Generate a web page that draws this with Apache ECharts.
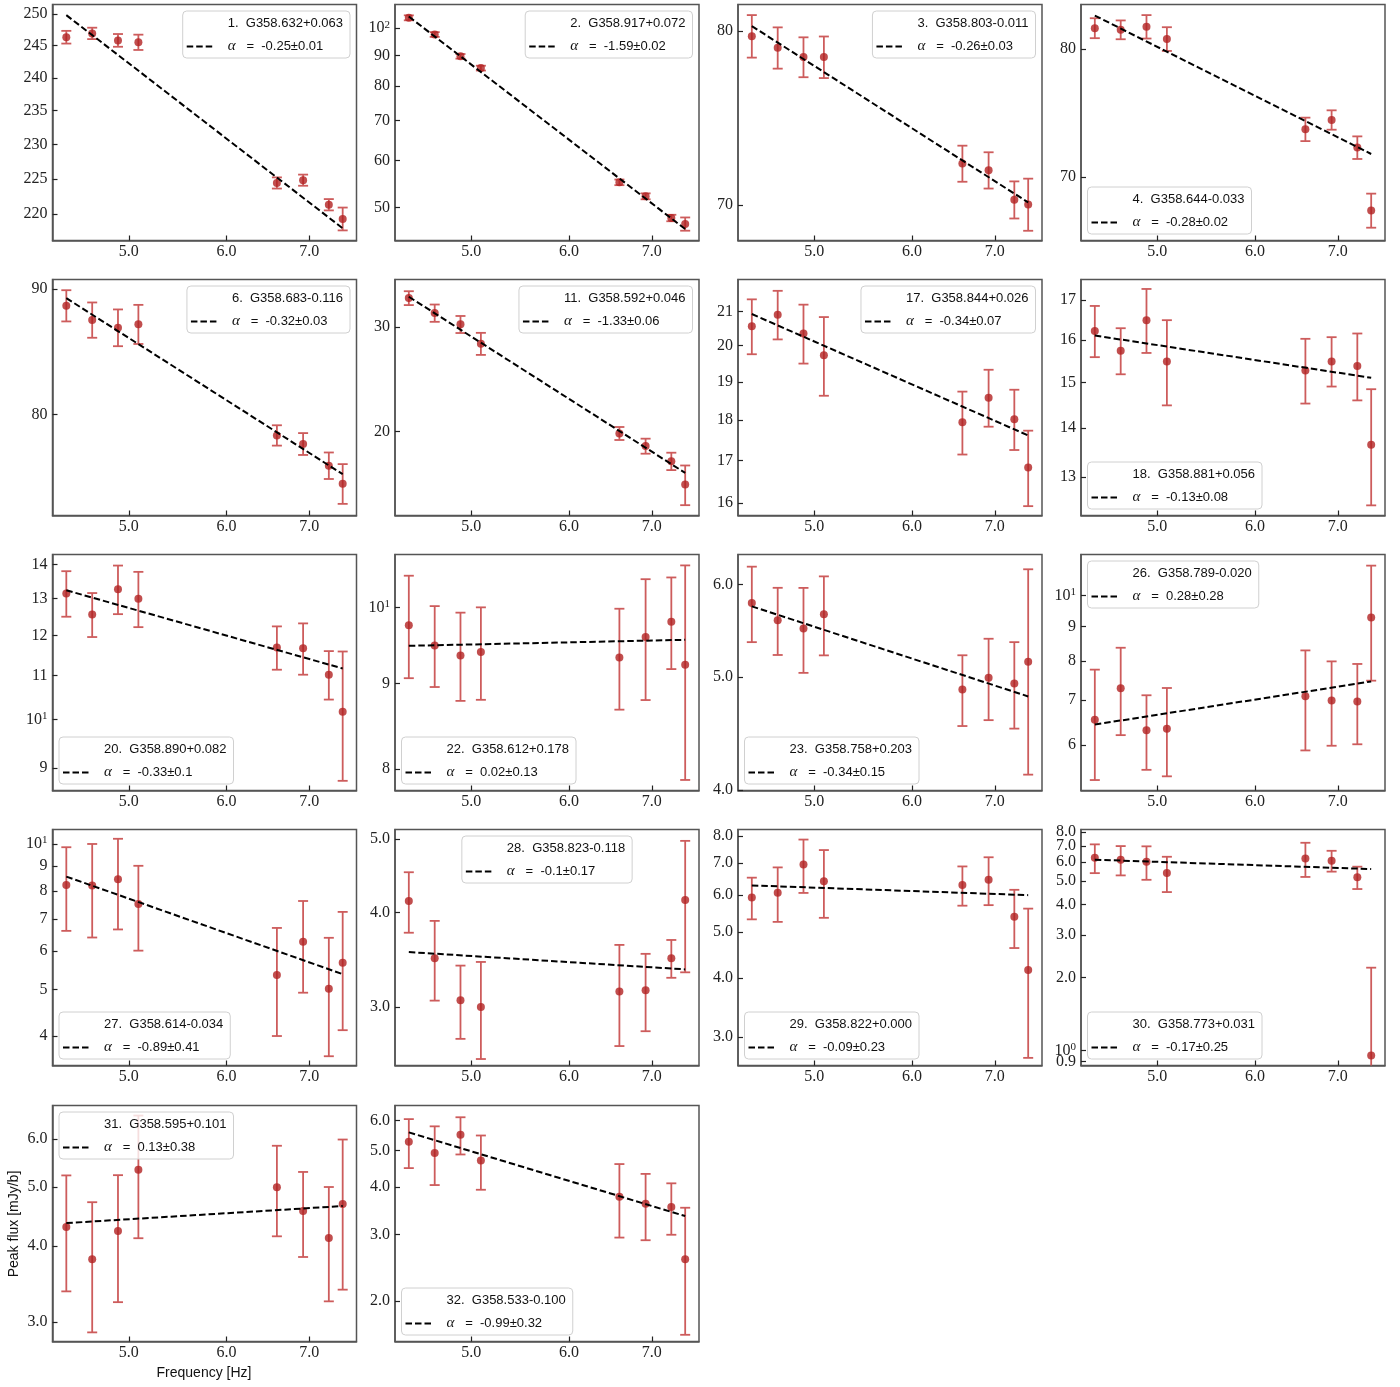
<!DOCTYPE html>
<html>
<head>
<meta charset="utf-8">
<script src="https://cdn.jsdelivr.net/npm/echarts@6/dist/echarts.min.js"></script>
<style>
html,body{margin:0;padding:0;background:#ffffff;}
#chart{width:1400px;height:1387px;}
</style>
</head>
<body>
<div id="chart"></div>
<script>
// ---------------- DATA ----------------
const FREQ = [4.45, 4.67, 4.90, 5.09, 6.59, 6.92, 7.26, 7.45];
const X_TICKS = ['5.0', '6.0', '7.0'];

const IDS = [1, 2, 3, 4, 6, 11, 17, 18, 20, 22, 23, 26, 27, 28, 29, 30, 31, 32];
const NAMES = ['G358.632+0.063', 'G358.917+0.072', 'G358.803-0.011', 'G358.644-0.033',
  'G358.683-0.116', 'G358.592+0.046', 'G358.844+0.026', 'G358.881+0.056',
  'G358.890+0.082', 'G358.612+0.178', 'G358.758+0.203', 'G358.789-0.020',
  'G358.614-0.034', 'G358.823-0.118', 'G358.822+0.000', 'G358.773+0.031',
  'G358.595+0.101', 'G358.533-0.100'];
const ALPHAS = ['-0.25±0.01', '-1.59±0.02', '-0.26±0.03', '-0.28±0.02',
  '-0.32±0.03', '-1.33±0.06', '-0.34±0.07', '-0.13±0.08',
  '-0.33±0.1', '0.02±0.13', '-0.34±0.15', '0.28±0.28',
  '-0.89±0.41', '-0.1±0.17', '-0.09±0.23', '-0.17±0.25',
  '0.13±0.38', '-0.99±0.32'];

const flux_1 = [246.3, 246.9, 245.8, 245.5, 224.4, 224.8, 221.3, 219.3];
const err_1 = [1.0, 0.9, 1.0, 1.2, 0.8, 0.8, 0.8, 1.6];
const fit_1 = [249.8, 218.0];
const yticks_1 = ['220', '225', '230', '235', '240', '245', '250'];
const ylim_1 = [216.3, 251.5];

const flux_2 = [104.1, 97.6, 89.7, 85.7, 55.1, 52.2, 48.0, 46.9];
const err_2 = [1.0, 0.9, 0.8, 0.8, 0.6, 0.6, 0.6, 1.2];
const fit_2 = [104.6, 46.0];
const yticks_2 = ['50', '60', '70', '80', '90', '10^2'];
const ylim_2 = [44.0, 109.6];

const flux_3 = [79.67, 78.96, 78.40, 78.40, 72.25, 71.88, 70.27, 70.02];
const err_3 = [1.3, 1.25, 1.2, 1.25, 1.0, 1.0, 1.0, 1.4];
const fit_3 = [80.29, 70.13];
const yticks_3 = ['70', '80'];
const ylim_3 = [68.11, 81.63];

const flux_4 = [81.76, 81.62, 81.88, 80.84, 73.58, 74.30, 72.19, 67.61];
const err_4 = [0.85, 0.8, 1.0, 1.0, 0.9, 0.75, 0.85, 1.2];
const fit_4 = [82.84, 71.71];
const yticks_4 = ['70', '80'];
const ylim_4 = [65.53, 83.80];

const flux_6 = [88.61, 87.43, 86.80, 87.08, 78.44, 77.81, 76.24, 74.95];
const err_6 = [1.3, 1.45, 1.5, 1.6, 0.75, 0.8, 0.95, 1.4];
const fit_6 = [89.24, 75.63];
const yticks_6 = ['80', '90'];
const ylim_6 = [72.75, 90.82];

const flux_11 = [33.56, 31.67, 30.31, 28.13, 19.87, 18.92, 17.84, 16.30];
const err_11 = [0.9, 1.06, 1.0, 1.2, 0.5, 0.55, 0.6, 1.25];
const fit_11 = [33.73, 17.05];
const yticks_11 = ['20', '30'];
const ylim_11 = [14.46, 36.06];

const flux_17 = [20.56, 20.90, 20.35, 19.73, 17.94, 18.58, 18.02, 16.83];
const err_17 = [0.8, 0.72, 0.85, 1.1, 0.8, 0.75, 0.77, 0.9];
const fit_17 = [20.92, 17.61];
const yticks_17 = ['16', '17', '18', '19', '20', '21'];
const ylim_17 = [15.72, 21.97];

const flux_18 = [16.22, 15.74, 16.49, 15.49, 15.28, 15.49, 15.38, 13.65];
const err_18 = [0.63, 0.55, 0.8, 1.0, 0.75, 0.58, 0.78, 1.2];
const fit_18 = [16.11, 15.11];
const yticks_18 = ['13', '14', '15', '16', '17'];
const ylim_18 = [12.26, 17.54];

const flux_20 = [13.15, 12.56, 13.27, 13.0, 11.69, 11.67, 11.02, 10.17];
const err_20 = [0.65, 0.6, 0.7, 0.78, 0.55, 0.65, 0.58, 1.42];
const fit_20 = [13.24, 11.17];
const yticks_20 = ['9', '10^1', '11', '12', '13', '14'];
const ylim_20 = [8.568, 14.31];

const flux_22 = [9.759, 9.489, 9.359, 9.402, 9.333, 9.599, 9.804, 9.239];
const err_22 = [0.69, 0.53, 0.57, 0.6, 0.65, 0.8, 0.62, 1.36];
const fit_22 = [9.484, 9.563];
const yticks_22 = ['8', '9', '10^1'];
const ylim_22 = [7.765, 10.76];

const flux_23 = [5.784, 5.590, 5.499, 5.656, 4.877, 4.99, 4.934, 5.152];
const err_23 = [0.43, 0.37, 0.46, 0.44, 0.34, 0.4, 0.42, 1.03];
const fit_23 = [5.746, 4.81];
const yticks_23 = ['4.0', '5.0', '6.0'];
const ylim_23 = [3.995, 6.365];

const flux_26 = [6.548, 7.291, 6.317, 6.346, 7.095, 6.99, 6.97, 9.281];
const err_26 = [1.22, 1.08, 0.8, 0.95, 1.2, 1.0, 0.95, 1.8];
const fit_26 = [6.44, 7.46];
const yticks_26 = ['6', '7', '8', '9', '10^1'];
const ylim_26 = [5.141, 11.51];

const flux_27 = [8.231, 8.205, 8.456, 7.516, 5.354, 6.273, 5.016, 5.677];
const err_27 = [1.62, 1.8, 1.8, 1.5, 1.35, 1.35, 1.38, 1.56];
const fit_27 = [8.564, 5.379];
const yticks_27 = ['4', '5', '6', '7', '8', '9', '10^1'];
const ylim_27 = [3.479, 10.72];

const flux_28 = [4.14, 3.478, 3.062, 3.0, 3.143, 3.156, 3.478, 4.153];
const err_28 = [0.38, 0.42, 0.34, 0.44, 0.48, 0.37, 0.2, 0.82];
const fit_28 = [3.545, 3.363];
const yticks_28 = ['3.0', '4.0', '5.0'];
const ylim_28 = [2.51, 5.148];

const flux_29 = [5.923, 6.058, 6.955, 6.413, 6.29, 6.455, 5.388, 4.159];
const err_29 = [0.6, 0.8, 0.9, 1.05, 0.6, 0.75, 0.76, 1.45];
const fit_29 = [6.28, 5.99];
const yticks_29 = ['3.0', '4.0', '5.0', '6.0', '7.0', '8.0'];
const ylim_29 = [2.61, 8.25];

const flux_30 = [6.252, 6.137, 6.02, 5.412, 6.21, 6.08, 5.194, 0.9537];
const err_30 = [0.85, 0.85, 0.95, 0.9, 1.0, 0.6, 0.55, 1.245];
const fit_30 = [6.137, 5.616];
const yticks_30 = ['0.9', '10^0', '2.0', '3.0', '4.0', '5.0', '6.0', '7.0', '8.0'];
const ylim_30 = [0.8674, 8.18];

const flux_31 = [4.298, 3.803, 4.233, 5.34, 5.0, 4.567, 4.123, 4.69];
const err_31 = [0.93, 0.92, 1.0, 1.22, 0.85, 0.73, 0.88, 1.3];
const fit_31 = [4.363, 4.655];
const yticks_31 = ['3.0', '4.0', '5.0', '6.0'];
const ylim_31 = [2.785, 6.815];

const flux_32 = [5.27, 4.92, 5.499, 4.706, 3.772, 3.615, 3.543, 2.578];
const err_32 = [0.78, 0.87, 0.62, 0.77, 0.83, 0.72, 0.55, 0.95];
const fit_32 = [5.58, 3.354];
const yticks_32 = ['2.0', '3.0', '4.0', '5.0', '6.0'];
const ylim_32 = [1.563, 6.573];

const FLUX = [flux_1, flux_2, flux_3, flux_4, flux_6, flux_11, flux_17, flux_18, flux_20, flux_22, flux_23, flux_26, flux_27, flux_28, flux_29, flux_30, flux_31, flux_32];
const ERR = [err_1, err_2, err_3, err_4, err_6, err_11, err_17, err_18, err_20, err_22, err_23, err_26, err_27, err_28, err_29, err_30, err_31, err_32];
const FIT = [fit_1, fit_2, fit_3, fit_4, fit_6, fit_11, fit_17, fit_18, fit_20, fit_22, fit_23, fit_26, fit_27, fit_28, fit_29, fit_30, fit_31, fit_32];
const YTICKS = [yticks_1, yticks_2, yticks_3, yticks_4, yticks_6, yticks_11, yticks_17, yticks_18, yticks_20, yticks_22, yticks_23, yticks_26, yticks_27, yticks_28, yticks_29, yticks_30, yticks_31, yticks_32];
const YLIM = [ylim_1, ylim_2, ylim_3, ylim_4, ylim_6, ylim_11, ylim_17, ylim_18, ylim_20, ylim_22, ylim_23, ylim_26, ylim_27, ylim_28, ylim_29, ylim_30, ylim_31, ylim_32];

// legend location per panel
const LEG_LOC = ['ur', 'ur', 'ur', 'll', 'ur', 'ur', 'ur', 'll', 'll', 'll', 'll', 'ul', 'll', 'uc', 'll', 'll', 'ul', 'll'];

// ---------------- LAYOUT / STYLE ----------------
const COL_LEFT = [52.5, 395, 738, 1081];
const ROW_TOP = [4.5, 279.5, 554.5, 829.5, 1105.5];
const PW = 304, PH = 236;
const SERIF = "'Liberation Serif', 'Times New Roman', serif";
const ERR_COLOR = '#cd5c5c';
const PT_COLOR = '#b22222';
const FRAME = '#555555';
const TXT = '#222222';

const L10 = Math.log10;

function tickValue(s) {
  if (s.indexOf('^') >= 0) { const p = s.split('^'); return Math.pow(+p[0], +p[1]); }
  return parseFloat(s);
}
function tickText(s) {
  if (s.indexOf('^') >= 0) { const p = s.split('^'); return '{b|' + p[0] + '}{s|' + p[1] + '}'; }
  return s;
}

const lxMin0 = L10(FREQ[0]), lxMax0 = L10(FREQ[FREQ.length - 1]);
const xPad = 0.05 * (lxMax0 - lxMin0);
const X_MIN = lxMin0 - xPad, X_MAX = lxMax0 + xPad;
const X_TICK_LOG = X_TICKS.map(s => L10(parseFloat(s)));

function gridRect(i) {
  const r = Math.floor(i / 4), c = i % 4;
  return { left: COL_LEFT[c], top: ROW_TOP[r], width: PW, height: PH };
}

function renderErr(params, api) {
  const x = api.value(0), lo = api.value(1), hi = api.value(2), clipped = api.value(3);
  const pHi = api.coord([x, hi]);
  const pLo = api.coord([x, lo]);
  const cap = 5;
  const style = { stroke: ERR_COLOR, lineWidth: 1.8 };
  const children = [
    { type: 'line', shape: { x1: pHi[0], y1: pHi[1], x2: pLo[0], y2: pLo[1] }, style: style },
    { type: 'line', shape: { x1: pHi[0] - cap, y1: pHi[1], x2: pHi[0] + cap, y2: pHi[1] }, style: style }
  ];
  if (!clipped) {
    children.push({ type: 'line', shape: { x1: pLo[0] - cap, y1: pLo[1], x2: pLo[0] + cap, y2: pLo[1] }, style: style });
  }
  return { type: 'group', children: children };
}

const measureCtx = document.createElement('canvas').getContext('2d');
function measure(text, font) { measureCtx.font = font; return measureCtx.measureText(text).width; }

function makeYAxis(i, labels, primary) {
  const vals = labels.map(s => L10(tickValue(s)));
  return {
    gridIndex: i, type: 'value', min: L10(YLIM[i][0]), max: L10(YLIM[i][1]), position: 'left', offset: 0,
    splitLine: { show: false },
    axisLine: { show: primary, onZero: false, lineStyle: { color: FRAME, width: 1.5 } },
    axisTick: { show: vals.length > 0, inside: true, length: 5, customValues: vals, lineStyle: { color: TXT, width: 1.2 } },
    axisLabel: { show: vals.length > 0, customValues: vals, margin: 5, fontFamily: SERIF, fontSize: 16, color: TXT,
      showMinLabel: true, showMaxLabel: true, hideOverlap: false,
      rich: {
        b: { fontFamily: SERIF, fontSize: 16, color: TXT, lineHeight: 18 },
        s: { fontFamily: SERIF, fontSize: 11, color: TXT, lineHeight: 10, verticalAlign: 'top' }
      },
      formatter: function (v) {
        let best = 0, bd = Infinity;
        vals.forEach((t, k) => { const d = Math.abs(t - v); if (d < bd) { bd = d; best = k; } });
        return tickText(labels[best]);
      } }
  };
}

const grids = [], xAxes = [], yAxes = [], series = [], graphics = [];

for (let i = 0; i < IDS.length; i++) {
  const g = gridRect(i);
  grids.push({ left: g.left, top: g.top, width: g.width, height: g.height, show: true,
    borderColor: FRAME, borderWidth: 1.5, backgroundColor: 'transparent', containLabel: false, outerBoundsMode: 'none' });

  xAxes.push({
    gridIndex: i, type: 'value', min: X_MIN, max: X_MAX,
    splitLine: { show: false },
    axisLine: { show: true, onZero: false, lineStyle: { color: FRAME, width: 1.5 } },
    axisTick: { show: true, inside: true, length: 5, customValues: X_TICK_LOG, lineStyle: { color: TXT, width: 1.2 } },
    axisLabel: { show: true, customValues: X_TICK_LOG, margin: 3, fontFamily: SERIF, fontSize: 16, color: TXT,
      showMinLabel: true, showMaxLabel: true, hideOverlap: false,
      formatter: function (v) {
        let best = 0, bd = Infinity;
        X_TICK_LOG.forEach((t, k) => { const d = Math.abs(t - v); if (d < bd) { bd = d; best = k; } });
        return X_TICKS[best];
      } }
  });

  // y ticks split over two coincident axes so neighbouring labels are never auto-hidden
  const yt = YTICKS[i];
  yAxes.push(makeYAxis(i, yt.filter((s, k) => k % 2 === 0), true));
  yAxes.push(makeYAxis(i, yt.filter((s, k) => k % 2 === 1), false));
  const yIdx = 2 * i;

  const yMinLog = L10(YLIM[i][0]);
  const errData = FREQ.map((f, k) => {
    const lo = FLUX[i][k] - ERR[i][k];
    const hi = FLUX[i][k] + ERR[i][k];
    const lowClip = !(lo > YLIM[i][0]);
    return [L10(f), lowClip ? yMinLog : L10(lo), L10(hi), lowClip ? 1 : 0];
  });
  series.push({
    type: 'custom', xAxisIndex: i, yAxisIndex: yIdx, renderItem: renderErr,
    data: errData, z: 2, silent: true, animation: false
  });
  series.push({
    type: 'scatter', xAxisIndex: i, yAxisIndex: yIdx, symbol: 'circle', symbolSize: 8,
    itemStyle: { color: PT_COLOR }, z: 3, silent: true, animation: false,
    data: FREQ.map((f, k) => [L10(f), L10(FLUX[i][k])])
  });
  series.push({
    type: 'line', xAxisIndex: i, yAxisIndex: yIdx, symbol: 'none', z: 4, silent: true, animation: false,
    lineStyle: { color: '#000000', width: 2, type: [6.5, 3] },
    data: [[L10(FREQ[0]), L10(FIT[i][0])], [L10(FREQ[FREQ.length - 1]), L10(FIT[i][1])]]
  });

  // legend box (matplotlib style)
  const line1 = IDS[i] + '.  ' + NAMES[i];
  const eq = '   =  ' + ALPHAS[i];
  const fSans = "13px 'Liberation Sans'";
  const fAlpha = "italic 15px 'Liberation Serif'";
  const w1 = measure(line1, fSans);
  const w2 = measure('α', fAlpha) + measure(eq, fSans);
  const textX = 45, bw = textX + Math.max(w1, w2) + 7, bh = 47, pad = 6.5;
  let L, T;
  const loc = LEG_LOC[i];
  if (loc === 'ur') { L = g.left + g.width - pad - bw; T = g.top + pad; }
  else if (loc === 'ul') { L = g.left + pad; T = g.top + pad; }
  else if (loc === 'uc') { L = g.left + (g.width - bw) / 2; T = g.top + pad; }
  else { L = g.left + pad; T = g.top + g.height - pad - bh; }
  graphics.push({
    type: 'group', z: 100, children: [
      { type: 'rect', shape: { x: L, y: T, width: bw, height: bh, r: 4 },
        style: { fill: 'rgba(255,255,255,0.8)', stroke: '#d0d0d0', lineWidth: 1 }, z: 100 },
      { type: 'line', shape: { x1: L + 4, y1: T + 35.5, x2: L + 32, y2: T + 35.5 },
        style: { stroke: '#000', lineWidth: 2, lineDash: [6.5, 3] }, z: 101 },
      { type: 'text', x: L + textX, y: T + 12.5, z: 101,
        style: { text: line1, font: fSans, fill: '#111', verticalAlign: 'middle', align: 'left' } },
      { type: 'text', x: L + textX, y: T + 35.5, z: 101,
        style: { text: '{a|α}{t|' + eq + '}', verticalAlign: 'middle', align: 'left',
          rich: {
            a: { fontFamily: 'Liberation Serif', fontStyle: 'italic', fontSize: 15, fill: '#111' },
            t: { fontFamily: 'Liberation Sans', fontSize: 13, fill: '#111' }
          } } }
    ]
  });
}

// axis titles
graphics.push({ type: 'text', x: 14, y: 1224, rotation: Math.PI / 2, z: 100,
  style: { text: 'Peak flux [mJy/b]', font: "14px 'Liberation Sans'", fill: '#111', align: 'center', verticalAlign: 'middle' } });
graphics.push({ type: 'text', x: 204, y: 1373, z: 100,
  style: { text: 'Frequency [Hz]', font: "14px 'Liberation Sans'", fill: '#111', align: 'center', verticalAlign: 'middle' } });

const chart = echarts.init(document.getElementById('chart'), null, { renderer: 'canvas' });
chart.setOption({
  animation: false,
  backgroundColor: '#ffffff',
  grid: grids,
  xAxis: xAxes,
  yAxis: yAxes,
  series: series,
  graphic: graphics
});
</script>
</body>
</html>
